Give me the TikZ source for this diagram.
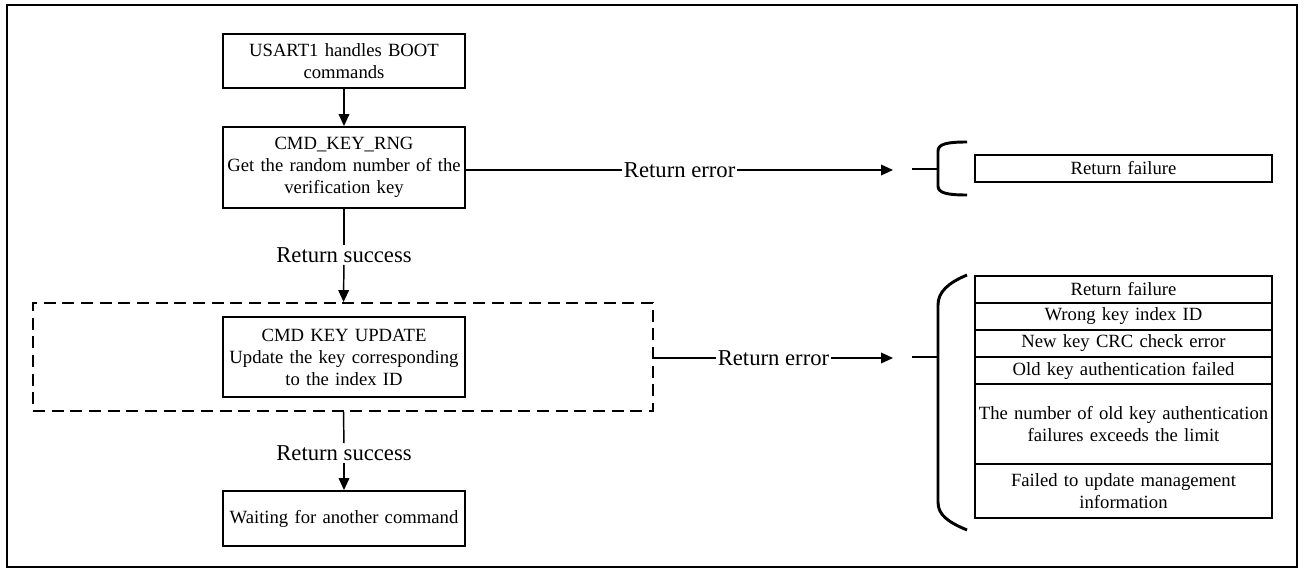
\documentclass[tikz,border=0pt]{standalone}
\usepackage{fontspec}
\setmainfont{Liberation Serif}
\usetikzlibrary{arrows.meta}
\begin{document}
\begin{tikzpicture}[x=0.75pt,y=-0.75pt,
  every node/.style={font=\fontsize{14}{16.5}\selectfont, inner sep=1pt},
  box/.style={draw, line width=1.4pt, minimum width=182pt, text width=178pt, align=center},
  cell/.style={draw, line width=1.1pt, minimum width=222.75pt, text width=218pt, align=center, inner sep=0pt},
  lbl/.style={font=\fontsize{17}{20}\selectfont, fill=white, inner sep=1.5pt},
  conn/.style={line width=1.1pt},
  arr/.style={conn, -{Triangle[length=9pt,width=8pt]}},
  brace/.style={line width=2.2pt},
]
\useasboundingbox (0,0) rectangle (1303,570);
\draw[line width=1.5pt] (7,5) rectangle (1297,567);

% main boxes
\node[box, minimum height=40.5pt] (b1) at (344,61) {USART1 handles BOOT\\commands};
\node[box, minimum height=60.75pt] (b2) at (344,167.5) {CMD\_KEY\_RNG\\Get the random number of the\\verification key};
\node[draw, dashed, dash pattern=on 9pt off 5pt, line width=1.4pt, minimum width=465pt, minimum height=81pt] (dz) at (343,357) {};
\node[box, minimum height=60pt] (b3) at (344,357) {CMD KEY UPDATE\\Update the key corresponding\\to the index ID};
\node[box, minimum height=41.25pt] (b4) at (344,518.5) {Waiting for another command};

\node[lbl] (rs1) at (344,255) {Return success};
\node[lbl] (rs2) at (344,453) {Return success};

\draw[arr] (b1) -- (b2);
\draw[conn] (b2) -- (rs1);
\draw[arr] (rs1) -- (dz);
\draw[conn] (dz) -- (rs2);
\draw[arr] (rs2) -- (b4);

% error arrows
\coordinate (t1) at (893,170);
\coordinate (t2) at (893,358);
\draw[arr] (b2.east |- t1) -- (t1) node[lbl, midway] {Return error};
\draw[arr] (dz.east |- t2) -- (t2) node[lbl, midway] {Return error};

% brace 1
\coordinate (s1) at (912,169);
\coordinate (v1) at (938,169);
\draw[brace] (s1) -- (v1);
\draw[brace] (967,142) .. controls (947,142) and (938,144) .. (938,151) -- (938,186) .. controls (938,193) and (947,195) .. (967,195);
\node[cell, minimum height=20.25pt] (f1) at (1123.5,168.5) {Return failure};

% brace 2
\coordinate (s2) at (912,357);
\coordinate (v2) at (938,357);
\draw[brace] (s2) -- (v2);
\draw[brace] (967,275) .. controls (948,283) and (938,292) .. (938,305) -- (938,502) .. controls (938,515) and (948,522) .. (967,530);

% table
\node[cell, minimum height=20.25pt] (r1) at (1123.5,289.5) {Return failure};
\node[cell, minimum height=20.25pt] (r2) at (1123.5,316.5) {Wrong key index ID};
\node[cell, minimum height=20.25pt] (r3) at (1123.5,343.5) {New key CRC check error};
\node[cell, minimum height=20.25pt] (r4) at (1123.5,370.5) {Old key authentication failed};
\node[cell, minimum height=60pt] (r5) at (1123.5,424) {The number of old key authentication\\failures exceeds the limit};
\node[cell, minimum height=40.5pt] (r6) at (1123.5,491) {Failed to update management\\information};
\end{tikzpicture}
\end{document}
